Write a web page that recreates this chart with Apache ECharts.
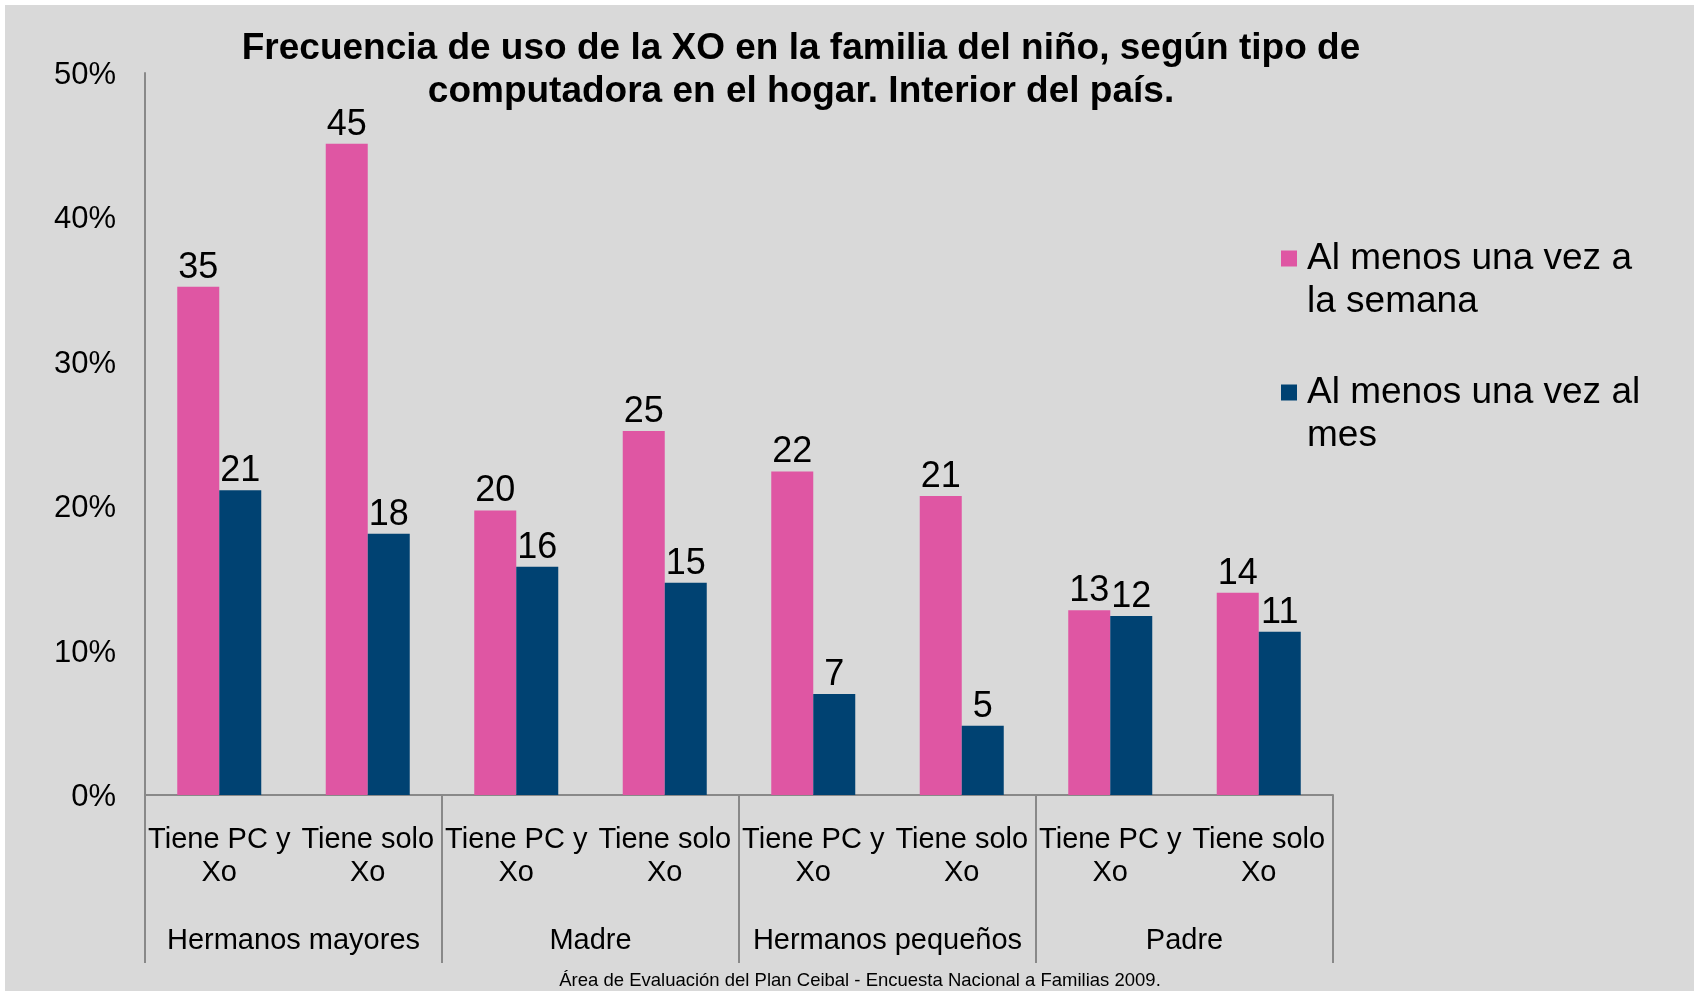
<!DOCTYPE html>
<html>
<head>
<meta charset="utf-8">
<script src="https://cdn.jsdelivr.net/npm/echarts@6/dist/echarts.min.js"></script>
<style>
  html, body { margin: 0; padding: 0; background: #ffffff; }
  #chart { position: absolute; left: 5px; top: 5px; width: 1689px; height: 986px; background: #d9d9d9; }
</style>
</head>
<body>
<div id="chart"></div>
<script>
// categories
const categories = [
  "Tiene PC y\nXo", "Tiene solo\nXo",
  "Tiene PC y\nXo", "Tiene solo\nXo",
  "Tiene PC y\nXo", "Tiene solo\nXo",
  "Tiene PC y\nXo", "Tiene solo\nXo"
];
const groups = ["Hermanos mayores", "Madre", "Hermanos pequeños", "Padre"];

// series values (percent)
const semana = [35.2, 45.1, 19.7, 25.2, 22.4, 20.7, 12.8, 14.0];
const mes = [21.1, 18.1, 15.8, 14.7, 7.0, 4.8, 12.4, 11.3];

const seriesNames = ["Al menos una vez a\nla semana", "Al menos una vez al\nmes"];
const yTicks = [0, 10, 20, 30, 40, 50];

const FONT = "'Liberation Sans', Arial, sans-serif";
const axisGray = "#898989";

const chart = echarts.init(document.getElementById("chart"));

const labelStyle = {
  show: true,
  position: "top",
  distance: 5,
  fontSize: 36,
  lineHeight: 28,
  fontFamily: FONT,
  color: "#000",
  textBorderWidth: 0,
  formatter: (p) => Math.round(p.value),
};

const option = {
  animation: false,
  textStyle: { fontFamily: FONT },
  title: [
    {
      text: "Frecuencia de uso de la XO en la familia del niño, según tipo de\ncomputadora en el hogar. Interior del país.",
      left: 791,
      top: 17,
      textAlign: "center",
      textStyle: {
        fontSize: 37,
        fontWeight: "bold",
        lineHeight: 43,
        color: "#000",
        fontFamily: FONT,
      },
    },
    {
      text: "Área de Evaluación del Plan Ceibal - Encuesta Nacional a Familias 2009.",
      left: 850,
      top: 961,
      textAlign: "center",
      textStyle: {
        fontSize: 18.5,
        fontWeight: "normal",
        color: "#000",
        fontFamily: FONT,
      },
    },
  ],
  legend: {
    orient: "vertical",
    left: 1276,
    top: 187,
    padding: 0,
    itemWidth: 16,
    itemHeight: 16,
    itemGap: 1,
    icon: "rect",
    data: seriesNames,
    // blank first line so the square sits beside the first text line
    formatter: (name) => "\n" + name,
    textStyle: {
      fontSize: 37,
      lineHeight: 43,
      color: "#000",
      fontFamily: FONT,
      padding: [4, 0, 0, 5],
    },
  },
  grid: {
    left: 140,
    top: 68,
    width: 1188,
    height: 722,
  },
  xAxis: [
    {
      type: "category",
      position: "bottom",
      data: categories,
      axisLine: { show: true, lineStyle: { color: axisGray, width: 2 } },
      axisTick: { show: false },
      axisLabel: {
        interval: 0,
        margin: 28,
        fontSize: 29,
        lineHeight: 33,
        color: "#000",
        fontFamily: FONT,
      },
    },
    {
      type: "category",
      position: "bottom",
      data: groups,
      axisLine: { show: false },
      axisTick: { show: true, length: 168, lineStyle: { color: axisGray, width: 2 } },
      axisLabel: {
        interval: 0,
        margin: 131,
        fontSize: 29,
        color: "#000",
        fontFamily: FONT,
      },
    },
  ],
  yAxis: {
    type: "value",
    min: yTicks[0],
    max: yTicks[yTicks.length - 1],
    interval: 10,
    axisLine: { show: true, lineStyle: { color: axisGray, width: 2 } },
    axisTick: { show: false },
    splitLine: { show: false },
    axisLabel: {
      margin: 29,
      fontSize: 31,
      color: "#000",
      fontFamily: FONT,
      verticalAlign: "top",
      lineHeight: 5,
      formatter: "{value}%",
    },
  },
  series: [
    {
      name: seriesNames[0],
      type: "bar",
      xAxisIndex: 0,
      data: semana,
      barWidth: 42,
      barGap: "0%",
      itemStyle: { color: "#df56a3" },
      label: labelStyle,
    },
    {
      name: seriesNames[1],
      type: "bar",
      xAxisIndex: 0,
      data: mes,
      barWidth: 42,
      barGap: "0%",
      itemStyle: { color: "#004272" },
      label: labelStyle,
    },
  ],
};

chart.setOption(option);
</script>
</body>
</html>
